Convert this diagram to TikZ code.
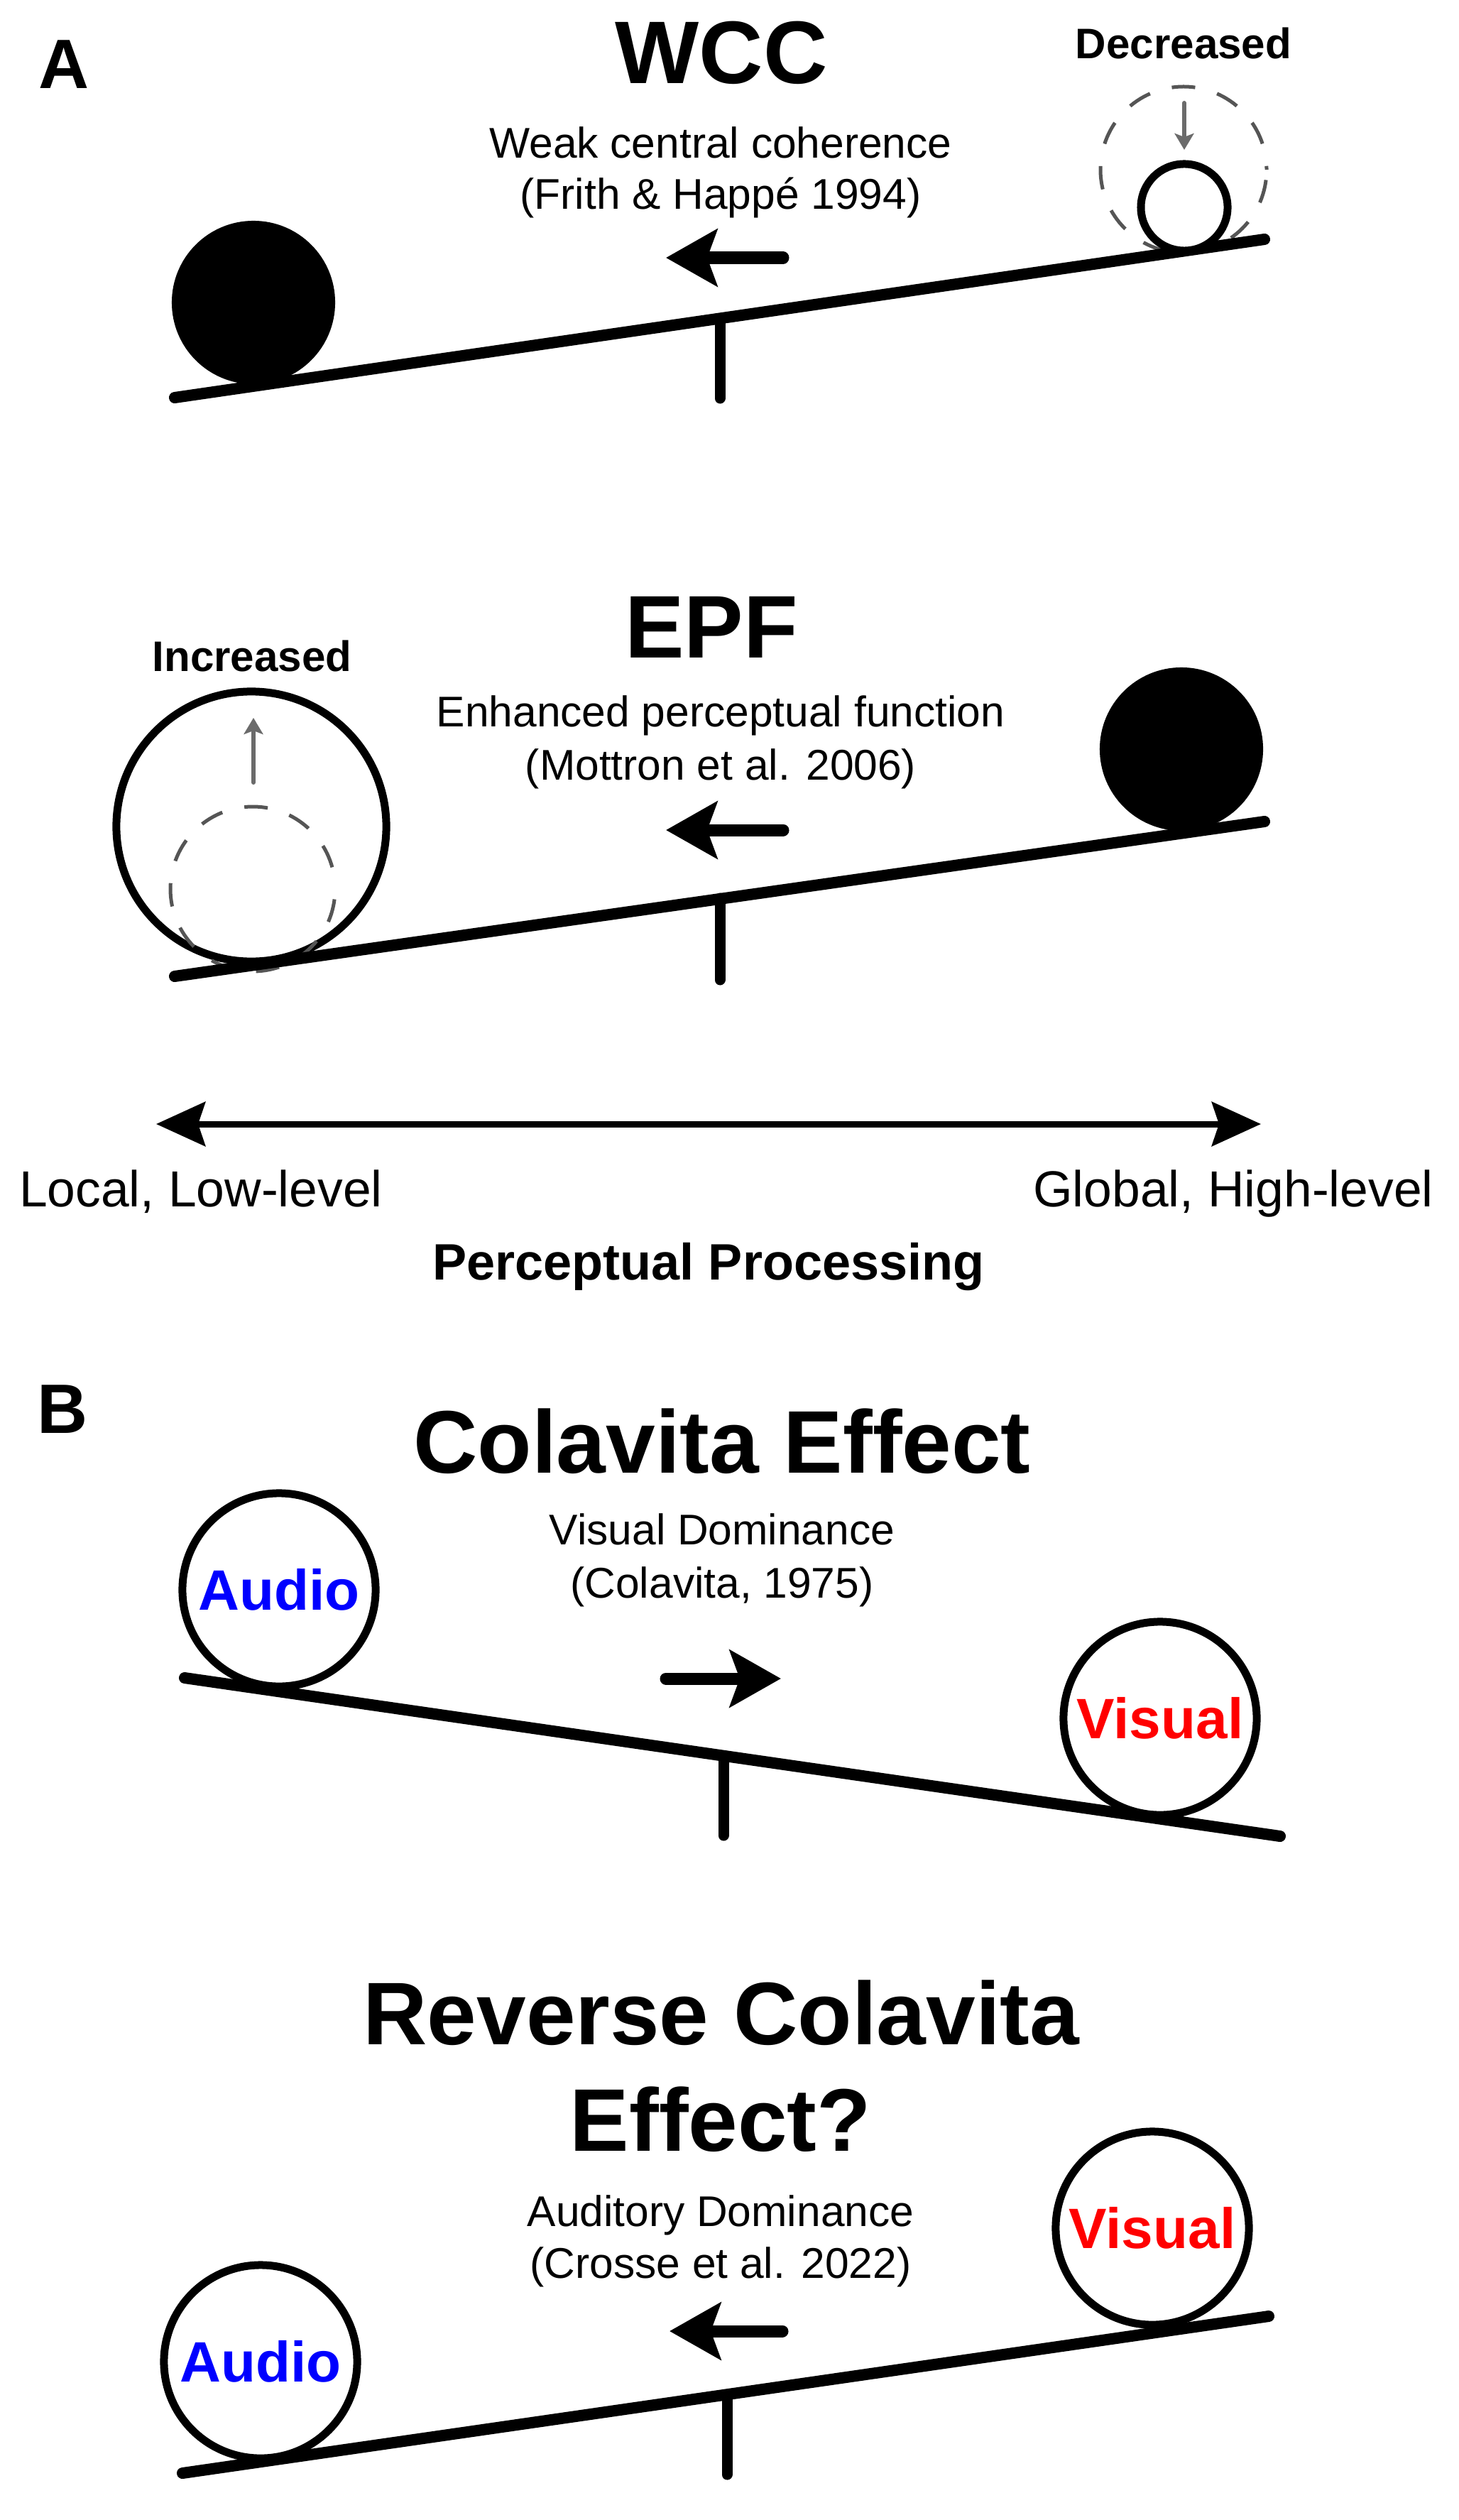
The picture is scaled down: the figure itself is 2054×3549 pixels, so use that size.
\documentclass[tikz,border=0pt]{standalone}
\usepackage{fontspec}
\setmainfont{Liberation Sans}
\usetikzlibrary{arrows.meta}
\definecolor{dashgray}{HTML}{555555}
\definecolor{arrgray}{HTML}{6B6B6B}
\definecolor{audblue}{HTML}{0000FF}
\definecolor{visred}{HTML}{FF0000}
\begin{document}
\begin{tikzpicture}[x=0.01cm,y=-0.01cm,
  beam/.style={line width=0.16cm, line cap=round},
  post/.style={line width=0.15cm, line cap=round},
  bigarrow/.style={line width=0.17cm, line cap=round, -{Stealth[length=0.72cm,width=0.8cm,inset=0.14cm]}},
  axisarrow/.style={line width=0.09cm, {Stealth[length=0.69cm,width=0.62cm,inset=0.1cm]}-{Stealth[length=0.69cm,width=0.62cm,inset=0.1cm]}},
  grayarrow/.style={draw=arrgray, line width=0.06cm, line cap=round, -{Stealth[length=0.23cm,width=0.27cm,inset=0.05cm]}},
  dcirc/.style={draw=dashgray, line width=0.05cm, dash pattern=on 0.33cm off 0.32cm, dash phase=0.505cm},
  ball/.style={circle, fill=black, inner sep=0pt, minimum size=2.30cm},
  title/.style={font=\fontsize{35.6}{40}\selectfont\bfseries, anchor=base, inner sep=0pt},
  sub/.style={font=\fontsize{17.2}{20}\selectfont, anchor=base, inner sep=0pt},
  axislab/.style={font=\fontsize{20.3}{24}\selectfont, anchor=base, inner sep=0pt},
  axistitle/.style={font=\fontsize{20.5}{24}\selectfont\bfseries, anchor=base, inner sep=0pt},
  tag/.style={font=\fontsize{17.1}{20}\selectfont\bfseries, anchor=base, inner sep=0pt},
  panel/.style={font=\fontsize{28}{32}\selectfont\bfseries, anchor=base, inner sep=0pt},
  modal/.style={circle, draw, line width=0.11cm, fill=white, inner sep=0pt, minimum size=2.72cm, font=\fontsize{22.8}{26}\selectfont\bfseries}
]
\fill[white] (0,0) rectangle (2054,3549);
\useasboundingbox (0,0) rectangle (2054,3549);

% ===== Panel A, WCC =====
\node[panel] (pA) at (90,125) {A};
\node[title] (wcc) at (1016,118) {WCC};
\node[sub] (wccs1) at (1015,223) {Weak central coherence};
\node[sub] (wccs2) at (1015,295) {(Frith \& Happé 1994)};
\node[tag] (dec) at (1667,83) {Decreased};

\coordinate (b1l) at (246,560);
\coordinate (b1r) at (1781,337);
\coordinate (f1t) at (1014,450);
\coordinate (f1b) at (1014,561);
\draw[dcirc] (1667,239) circle[radius=117];
\coordinate (g1s) at (1668,145);
\coordinate (g1e) at (1668,211);
\draw[grayarrow] (g1s) -- (g1e);
\draw[post] (f1t) -- (f1b);
\draw[beam] (b1l) -- (b1r);
\node[ball] (ballA1) at (357,426) {};
\node[circle, draw, fill=white, line width=0.11cm, inner sep=0pt, minimum size=1.22cm] (small) at (1668,292) {};
\coordinate (a1t) at (1103,363);
\coordinate (a1h) at (938,363);
\draw[bigarrow] (a1t) -- (a1h);

% ===== Panel A, EPF =====
\node[title] (epf) at (1002,926) {EPF};
\node[sub] (epfs1) at (1015,1023) {Enhanced perceptual function};
\node[sub] (epfs2) at (1015,1098) {(Mottron et al. 2006)};
\node[tag] (inc) at (355,945) {Increased};

\coordinate (b2l) at (246,1375);
\coordinate (b2r) at (1781,1157);
\coordinate (f2t) at (1014,1265);
\coordinate (f2b) at (1014,1380);
\node[circle, draw, fill=white, line width=0.11cm, inner sep=0pt, minimum size=3.80cm] (big) at (354,1164) {};
\draw[dcirc] (356,1252) circle[radius=116];
\coordinate (g2s) at (357,1102);
\coordinate (g2e) at (357,1011);
\draw[grayarrow] (g2s) -- (g2e);
\draw[post] (f2t) -- (f2b);
\draw[beam] (b2l) -- (b2r);
\node[ball] (ballA2) at (1664,1055) {};
\coordinate (a2t) at (1103,1169);
\coordinate (a2h) at (938,1169);
\draw[bigarrow] (a2t) -- (a2h);

% ===== Axis =====
\coordinate (axl) at (220,1583);
\coordinate (axr) at (1776,1583);
\draw[axisarrow] (axl) -- (axr);
\node[axislab] (loc) at (283,1699) {Local, Low-level};
\node[axislab] (glob) at (1737,1699) {Global, High-level};
\node[axistitle] (pp) at (998,1802) {Perceptual Processing};

% ===== Panel B, Colavita =====
\node[panel] (pB) at (88,2018) {B};
\node[title] (col) at (1017,2074) {Colavita Effect};
\node[sub] (cols1) at (1017,2175) {Visual Dominance};
\node[sub] (cols2) at (1017,2250) {(Colavita, 1975)};

\coordinate (b3l) at (260,2363);
\coordinate (b3r) at (1803,2586);
\coordinate (f3t) at (1019,2475);
\coordinate (f3b) at (1019,2585);
\draw[post] (f3t) -- (f3b);
\draw[beam] (b3l) -- (b3r);
\node[modal, text=audblue] (aud1) at (393,2239) {Audio};
\node[modal, text=visred] (vis1) at (1634,2420) {Visual};
\coordinate (a3t) at (938,2364);
\coordinate (a3h) at (1100,2364);
\draw[bigarrow] (a3t) -- (a3h);

% ===== Panel B, Reverse =====
\node[title] (rev1) at (1016,2879) {Reverse Colavita};
\node[title] (rev2) at (1015,3029) {Effect?};
\node[sub] (revs1) at (1015,3135) {Auditory Dominance};
\node[sub] (revs2) at (1015,3208) {(Crosse et al. 2022)};

\coordinate (b4l) at (257,3483);
\coordinate (b4r) at (1787,3262);
\coordinate (f4t) at (1024,3375);
\coordinate (f4b) at (1024,3485);
\draw[post] (f4t) -- (f4b);
\draw[beam] (b4l) -- (b4r);
\node[modal, text=audblue] (aud2) at (367,3326) {Audio};
\node[modal, text=visred] (vis2) at (1623,3138) {Visual};
\coordinate (a4t) at (1102,3283);
\coordinate (a4h) at (943,3283);
\draw[bigarrow] (a4t) -- (a4h);
\end{tikzpicture}
\end{document}
